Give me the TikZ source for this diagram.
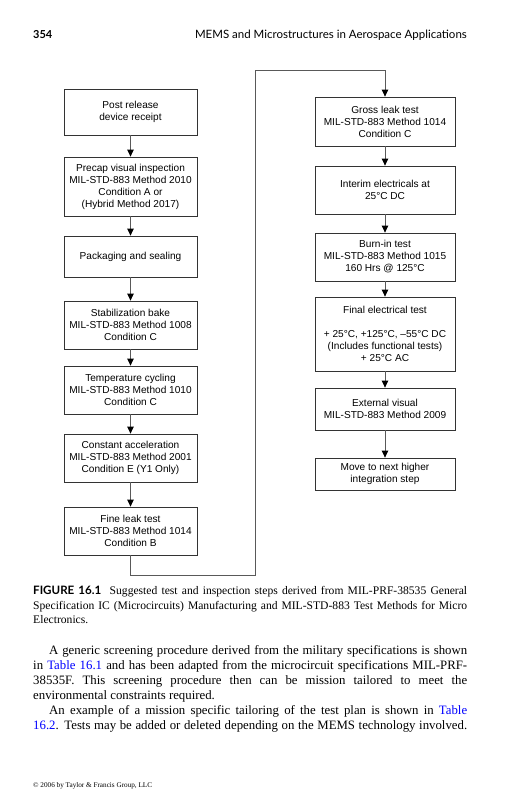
\documentclass[tikz,border=0pt]{standalone}
\usepackage{fontspec}
\setmainfont{Liberation Serif}
\newfontfamily\flowfont{Liberation Sans}
\newfontfamily\headfont{Lato}
\usetikzlibrary{arrows.meta}
\begin{document}
\begin{tikzpicture}[x=1pt,y=-1pt,
  stepbox/.style={draw=black!80, line width=0.8pt, align=center, inner sep=0pt,
    font=\flowfont\fontsize{10.1}{12}\selectfont},
  lbox/.style={stepbox, minimum width=133pt},
  rbox/.style={stepbox, minimum width=140pt},
  flow/.style={draw=black!65, line width=0.8pt, -{Triangle[width=6.5pt,length=7pt,black]}},
  txt/.style={anchor=base west, inner sep=0pt},
  bodyfont/.style={font=\fontsize{12.8}{15}\selectfont},
  capfont/.style={font=\fontsize{11.6}{14}\selectfont},
]
\fill[white] (0,0) rectangle (512,800);
\useasboundingbox (0,0) rectangle (512,800);

% header
\node[txt, font=\headfont\bfseries\fontsize{11}{13}\selectfont] (pagenum) at (33,39) {354};
\node[anchor=base east, inner sep=0pt, font=\headfont\fontsize{11.5}{14}\selectfont] (title) at (467,39)
  {MEMS and Microstructures in Aerospace Applications};

% left column
\node[lbox, minimum height=46pt] (b1) at (130.5,112) {Post release\\device receipt};
\node[lbox, minimum height=59pt] (b2) at (130.5,186.5) {Precap visual inspection\\MIL-STD-883 Method 2010\\Condition A or\\(Hybrid Method 2017)};
\node[lbox, minimum height=41pt] (b3) at (130.5,256.5) {Packaging and sealing};
\node[lbox, minimum height=48pt] (b4) at (130.5,325) {Stabilization bake\\MIL-STD-883 Method 1008\\Condition C};
\node[lbox, minimum height=48pt] (b5) at (130.5,390) {Temperature cycling\\MIL-STD-883 Method 1010\\Condition C};
\node[lbox, minimum height=48pt] (b6) at (130.5,458) {Constant acceleration\\MIL-STD-883 Method 2001\\Condition E (Y1 Only)};
\node[lbox, minimum height=48pt] (b7) at (130.5,531) {Fine leak test\\MIL-STD-883 Method 1014\\Condition B};

% right column
\node[rbox, minimum height=49pt] (r1) at (385,121.5) {Gross leak test\\MIL-STD-883 Method 1014\\Condition C};
\node[rbox, minimum height=48pt] (r2) at (385,190) {Interim electricals at\\25°C DC};
\node[rbox, minimum height=48pt] (r3) at (385,257) {Burn-in test\\MIL-STD-883 Method 1015\\160 Hrs @ 125°C};
\node[rbox, minimum height=74pt] (r4) at (385,334) {Final electrical test\\[12pt]+ 25°C, +125°C, –55°C DC\\(Includes functional tests)\\+ 25°C AC};
\node[rbox, minimum height=42pt] (r5) at (385,409) {External visual\\MIL-STD-883 Method 2009};
\node[rbox, minimum height=32pt] (r6) at (385,474) {Move to next higher\\integration step};

% connectors
\draw[flow] (b1) -- (b2);
\draw[flow] (b2) -- (b3);
\draw[flow] (b3) -- (b4);
\draw[flow] (b4) -- (b5);
\draw[flow] (b5) -- (b6);
\draw[flow] (b6) -- (b7);
\coordinate (c1) at (130.5,575);
\coordinate (c2) at (255,575);
\coordinate (c3) at (255,70);
\coordinate (c4) at (385,70);
\draw[flow] (b7.south) -- (c1) -- (c2) -- (c3) -- (c4) -- (r1.north);
\draw[flow] (r1) -- (r2);
\draw[flow] (r2) -- (r3);
\draw[flow] (r3) -- (r4);
\draw[flow] (r4) -- (r5);
\draw[flow] (r5) -- (r6);

% caption
\node[txt, capfont] (cap1) at (33,594) {\makebox[434pt][s]{{\headfont\bfseries FIGURE 16.1}\ \ Suggested test and inspection steps derived from MIL-PRF-38535 General}};
\node[txt, capfont] (cap2) at (33,609) {\makebox[434pt][s]{Specification IC (Microcircuits) Manufacturing and MIL-STD-883 Test Methods for Micro}};
\node[txt, capfont] (cap3) at (33,623) {Electronics.};

% body text
\node[txt, bodyfont] (p1) at (49,654) {\makebox[418pt][s]{A generic screening procedure derived from the military specifications is shown}};
\node[txt, bodyfont] (p2) at (33,669) {\makebox[434pt][s]{in \textcolor{blue}{Table 16.1} and has been adapted from the microcircuit specifications MIL-PRF-}};
\node[txt, bodyfont] (p3) at (33,684) {\makebox[434pt][s]{38535F. This screening procedure then can be mission tailored to meet the}};
\node[txt, bodyfont] (p4) at (33,699) {environmental constraints required.};
\node[txt, bodyfont] (p5) at (49,714) {\makebox[418pt][s]{An example of a mission specific tailoring of the test plan is shown in \textcolor{blue}{Table}}};
\node[txt, bodyfont] (p6) at (33,729) {\makebox[434pt][s]{\textcolor{blue}{16.2}. Tests may be added or deleted depending on the MEMS technology involved.}};

% footer
\node[txt, font=\fontsize{7.2}{9}\selectfont] (copy) at (33,787.5) {© 2006 by Taylor \& Francis Group, LLC};
\end{tikzpicture}
\end{document}
